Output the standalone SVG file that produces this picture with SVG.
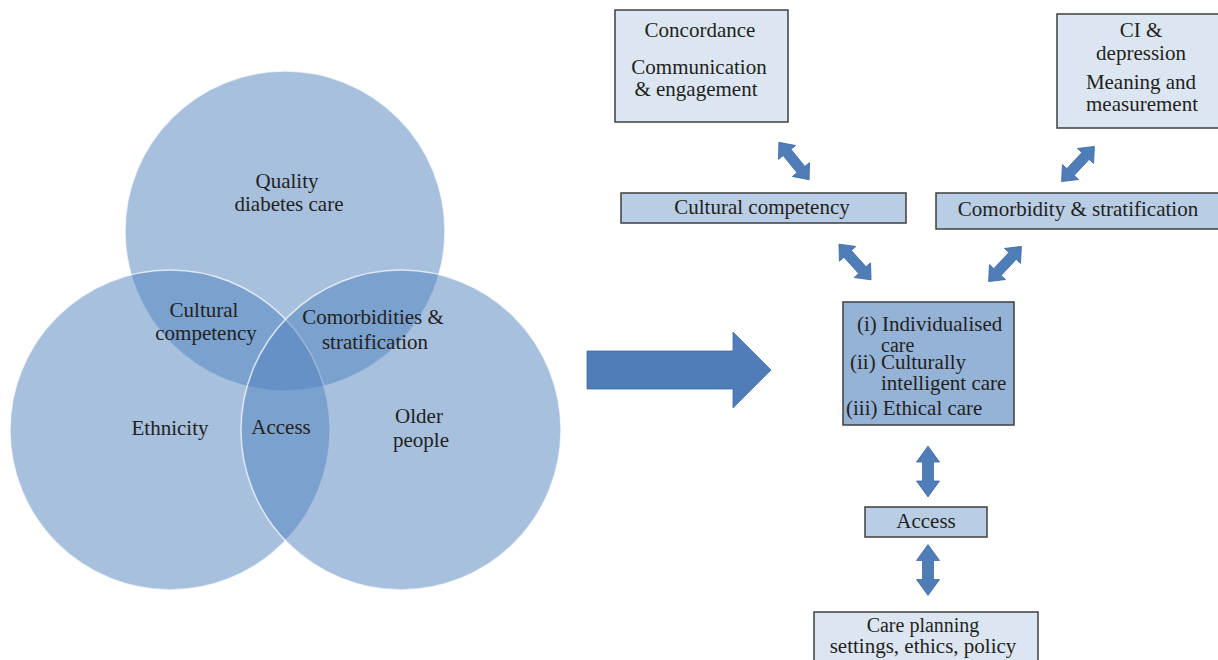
<svg xmlns="http://www.w3.org/2000/svg" width="1218" height="660" viewBox="0 0 1218 660">
<style>
text{font-family:"Liberation Serif","DejaVu Serif",serif;font-size:21px;fill:#231f20;text-anchor:middle}
.venn{fill:#4f81bd;fill-opacity:0.5;stroke:#ffffff;stroke-opacity:0.7;stroke-width:1.5}
.box{stroke:#3f3f3f;stroke-width:1.5}
.light{fill:#dce6f2}
.mid{fill:#b9cde5}
.dark{fill:#95b3d7}
.arr{fill:#4f7db8;stroke:#3f6a9e;stroke-width:0.8}
.left{text-anchor:start}
.tight{font-size:20px}
</style>
<defs>
<polygon id="darr" points="-24,0 -11,-11 -11,-5 11,-5 11,-11 24,0 11,11 11,5 -11,5 -11,11"/>
<polygon id="varr" points="-25.5,0 -9.5,-11.5 -9.5,-5.5 9.5,-5.5 9.5,-11.5 25.5,0 9.5,11.5 9.5,5.5 -9.5,5.5 -9.5,11.5"/>
</defs>
<rect width="1218" height="660" fill="#ffffff"/>
<g id="venn">
<circle class="venn" cx="285" cy="231" r="160"/>
<circle class="venn" cx="170" cy="430" r="160"/>
<circle class="venn" cx="401" cy="430" r="160"/>
<text x="287" y="188">Quality</text>
<text x="289" y="211">diabetes care</text>
<text x="204" y="317">Cultural</text>
<text x="206" y="340">competency</text>
<text x="373" y="324">Comorbidities &amp;</text>
<text x="375" y="349">stratification</text>
<text x="170" y="435">Ethnicity</text>
<text x="281" y="434">Access</text>
<text x="419" y="423">Older</text>
<text x="421" y="447">people</text>
</g>
<g id="bigarrow">
<polygon class="arr" points="587,351 733,351 733,332 771,370 733,408 733,389 587,389"/>
</g>
<g id="concordance">
<rect class="box light" x="615" y="10" width="173" height="112"/>
<text x="700" y="37">Concordance</text>
<text x="699" y="74">Communication</text>
<text x="696" y="96">&amp; engagement</text>
</g>
<g id="ci">
<rect class="box light" x="1057" y="14" width="170" height="114"/>
<text x="1141" y="37">CI &amp;</text>
<text x="1141" y="60">depression</text>
<text x="1141" y="89">Meaning and</text>
<text x="1142" y="111">measurement</text>
</g>
<g id="cultural">
<rect class="box mid" x="621" y="193" width="285" height="30"/>
<text x="762" y="214">Cultural competency</text>
</g>
<g id="comorbidity">
<rect class="box mid" x="936" y="193" width="290" height="36"/>
<text x="1078" y="216">Comorbidity &amp; stratification</text>
</g>
<g id="central">
<rect class="box dark" x="843" y="302" width="171" height="123"/>
<text class="left" x="857" y="331">(i) Individualised</text>
<text class="left tight" x="881" y="352">care</text>
<text class="left" x="850" y="369">(ii) Culturally</text>
<text class="left" x="881" y="390">intelligent care</text>
<text class="left" x="846" y="415">(iii) Ethical care</text>
</g>
<g id="access">
<rect class="box mid" x="865" y="507" width="122" height="30"/>
<text x="926" y="528">Access</text>
</g>
<g id="careplanning">
<rect class="box light" x="814" y="612" width="224" height="60"/>
<text class="tight" x="923" y="632">Care planning</text>
<text x="923" y="653">settings, ethics, policy</text>
</g>
<g id="connectors">
<use href="#darr" class="arr" transform="translate(794,161) rotate(51)"/>
<use href="#darr" class="arr" transform="translate(1078,164) rotate(-47)"/>
<use href="#darr" class="arr" transform="translate(855,262) rotate(48)"/>
<use href="#darr" class="arr" transform="translate(1005,264) rotate(-47)"/>
<use href="#varr" class="arr" transform="translate(928,471.5) rotate(90)"/>
<use href="#varr" class="arr" transform="translate(928,570) rotate(90)"/>
</g>
</svg>
